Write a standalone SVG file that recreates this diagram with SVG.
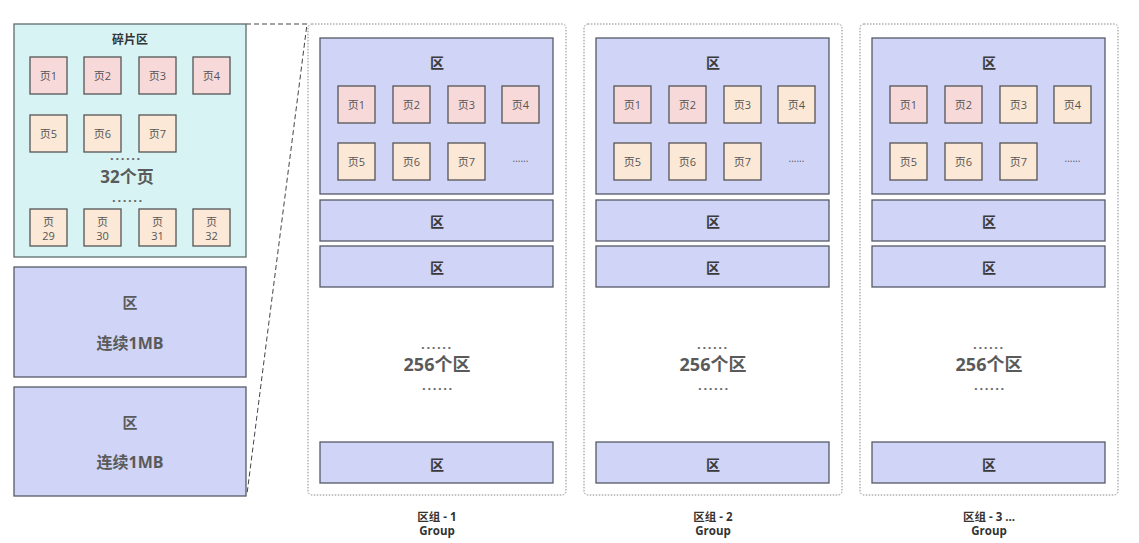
<svg xmlns="http://www.w3.org/2000/svg" width="1139" height="543" viewBox="0 0 1139 543">
<style>
text{font-family:"Open Sans","Noto Sans CJK SC",sans-serif;text-anchor:middle;dominant-baseline:central;fill:#555}
.frag{fill:#d7f3f3;stroke:#5f6b6b;stroke-width:1.3}
.zone{fill:#d0d4f7;stroke:#555a66;stroke-width:1.3}
.pink{fill:#f8d9d9;stroke:#555;stroke-width:1.3}
.cream{fill:#fce8d6;stroke:#555;stroke-width:1.3}
.grp{fill:none;stroke:#888;stroke-width:1;stroke-dasharray:1.5 1.5}
.pg{font-size:11px;fill:#555}
.zt{font-size:14px;font-weight:bold;fill:#3a3a3a}
.big{font-size:17px;font-weight:bold;fill:#5a5a5a}
.dots{font-size:13px;font-weight:bold;fill:#666;letter-spacing:1.6px}
.sdots{font-size:10px;fill:#555}
.lbl{font-size:11.5px;font-weight:bold;fill:#333}
</style>
<g id="connectors">
<polyline points="246,24 307,24 247,494" fill="none" stroke="#444" stroke-width="1" stroke-dasharray="5 3"/>
</g>
<g id="fragment-zone">
<rect class="frag" x="14" y="24" width="232" height="233"/>
<text x="130" y="39" style="font-size:12px;font-weight:bold;fill:#333">碎片区</text>
<rect class="pink" x="30" y="57" width="37" height="37"/><text class="pg" x="48.5" y="75.5">页1</text>
<rect class="pink" x="84" y="57" width="37" height="37"/><text class="pg" x="102.5" y="75.5">页2</text>
<rect class="pink" x="139" y="57" width="37" height="37"/><text class="pg" x="157.5" y="75.5">页3</text>
<rect class="pink" x="193" y="57" width="37" height="37"/><text class="pg" x="211.5" y="75.5">页4</text>
<rect class="cream" x="30" y="115" width="37" height="37"/><text class="pg" x="48.5" y="133.5">页5</text>
<rect class="cream" x="84" y="115" width="37" height="37"/><text class="pg" x="102.5" y="133.5">页6</text>
<rect class="cream" x="139" y="115" width="37" height="37"/><text class="pg" x="157.5" y="133.5">页7</text>
<text class="dots" x="126" y="155">......</text>
<text class="big" x="127" y="176">32个页</text>
<text class="dots" x="128" y="197">......</text>
<rect class="cream" x="30" y="209" width="37" height="37"/><text class="pg" x="48.5" y="221">页</text><text class="pg" x="48.5" y="235">29</text>
<rect class="cream" x="84" y="209" width="37" height="37"/><text class="pg" x="102.5" y="221">页</text><text class="pg" x="102.5" y="235">30</text>
<rect class="cream" x="139" y="209" width="37" height="37"/><text class="pg" x="157.5" y="221">页</text><text class="pg" x="157.5" y="235">31</text>
<rect class="cream" x="193" y="209" width="37" height="37"/><text class="pg" x="211.5" y="221">页</text><text class="pg" x="211.5" y="235">32</text>
</g>
<g id="zone-a">
<rect class="zone" x="14" y="267" width="232" height="110"/>
<text class="big" x="130" y="302" style="font-size:15px">区</text>
<text class="big" x="130" y="343" style="font-size:16px">连续1MB</text>
</g>
<g id="zone-b">
<rect class="zone" x="14" y="387" width="232" height="109"/>
<text class="big" x="130" y="422" style="font-size:15px">区</text>
<text class="big" x="130" y="462" style="font-size:16px">连续1MB</text>
</g>
<g id="group-1">
<rect class="grp" x="308" y="24" width="258" height="471" rx="4"/>
<rect class="zone" x="320" y="38" width="233" height="156"/>
<text class="zt" x="437" y="62">区</text>
<rect class="pink" x="338" y="86" width="37" height="37"/><text class="pg" x="356.5" y="104.5">页1</text>
<rect class="pink" x="393" y="86" width="37" height="37"/><text class="pg" x="411.5" y="104.5">页2</text>
<rect class="pink" x="448" y="86" width="37" height="37"/><text class="pg" x="466.5" y="104.5">页3</text>
<rect class="pink" x="502" y="86" width="37" height="37"/><text class="pg" x="520.5" y="104.5">页4</text>
<rect class="cream" x="338" y="143" width="37" height="37"/><text class="pg" x="356.5" y="161.5">页5</text>
<rect class="cream" x="393" y="143" width="37" height="37"/><text class="pg" x="411.5" y="161.5">页6</text>
<rect class="cream" x="448" y="143" width="37" height="37"/><text class="pg" x="466.5" y="161.5">页7</text>
<text class="sdots" x="520.5" y="158">......</text>
<rect class="zone" x="320" y="200" width="233" height="41"/><text class="zt" x="437" y="221">区</text>
<rect class="zone" x="320" y="246" width="233" height="41"/><text class="zt" x="437" y="267">区</text>
<text class="dots" x="437" y="344">......</text>
<text class="big" x="437" y="364" style="font-size:18px">256个区</text>
<text class="dots" x="438" y="385">......</text>
<rect class="zone" x="320" y="442" width="233" height="41"/><text class="zt" x="437" y="464">区</text>
<text class="lbl" x="437" y="516">区组 - 1</text>
<text class="lbl" x="437" y="530">Group</text>
</g>
<g id="group-2">
<rect class="grp" x="584" y="24" width="258" height="471" rx="4"/>
<rect class="zone" x="596" y="38" width="233" height="156"/>
<text class="zt" x="713" y="62">区</text>
<rect class="pink" x="614" y="86" width="37" height="37"/><text class="pg" x="632.5" y="104.5">页1</text>
<rect class="pink" x="669" y="86" width="37" height="37"/><text class="pg" x="687.5" y="104.5">页2</text>
<rect class="cream" x="724" y="86" width="37" height="37"/><text class="pg" x="742.5" y="104.5">页3</text>
<rect class="cream" x="778" y="86" width="37" height="37"/><text class="pg" x="796.5" y="104.5">页4</text>
<rect class="cream" x="614" y="143" width="37" height="37"/><text class="pg" x="632.5" y="161.5">页5</text>
<rect class="cream" x="669" y="143" width="37" height="37"/><text class="pg" x="687.5" y="161.5">页6</text>
<rect class="cream" x="724" y="143" width="37" height="37"/><text class="pg" x="742.5" y="161.5">页7</text>
<text class="sdots" x="796.5" y="158">......</text>
<rect class="zone" x="596" y="200" width="233" height="41"/><text class="zt" x="713" y="221">区</text>
<rect class="zone" x="596" y="246" width="233" height="41"/><text class="zt" x="713" y="267">区</text>
<text class="dots" x="713" y="344">......</text>
<text class="big" x="713" y="364" style="font-size:18px">256个区</text>
<text class="dots" x="714" y="385">......</text>
<rect class="zone" x="596" y="442" width="233" height="41"/><text class="zt" x="713" y="464">区</text>
<text class="lbl" x="713" y="516">区组 - 2</text>
<text class="lbl" x="713" y="530">Group</text>
</g>
<g id="group-3">
<rect class="grp" x="860" y="24" width="258" height="471" rx="4"/>
<rect class="zone" x="872" y="38" width="233" height="156"/>
<text class="zt" x="989" y="62">区</text>
<rect class="pink" x="890" y="86" width="37" height="37"/><text class="pg" x="908.5" y="104.5">页1</text>
<rect class="pink" x="945" y="86" width="37" height="37"/><text class="pg" x="963.5" y="104.5">页2</text>
<rect class="cream" x="1000" y="86" width="37" height="37"/><text class="pg" x="1018.5" y="104.5">页3</text>
<rect class="cream" x="1054" y="86" width="37" height="37"/><text class="pg" x="1072.5" y="104.5">页4</text>
<rect class="cream" x="890" y="143" width="37" height="37"/><text class="pg" x="908.5" y="161.5">页5</text>
<rect class="cream" x="945" y="143" width="37" height="37"/><text class="pg" x="963.5" y="161.5">页6</text>
<rect class="cream" x="1000" y="143" width="37" height="37"/><text class="pg" x="1018.5" y="161.5">页7</text>
<text class="sdots" x="1072.5" y="158">......</text>
<rect class="zone" x="872" y="200" width="233" height="41"/><text class="zt" x="989" y="221">区</text>
<rect class="zone" x="872" y="246" width="233" height="41"/><text class="zt" x="989" y="267">区</text>
<text class="dots" x="989" y="344">......</text>
<text class="big" x="989" y="364" style="font-size:18px">256个区</text>
<text class="dots" x="990" y="385">......</text>
<rect class="zone" x="872" y="442" width="233" height="41"/><text class="zt" x="989" y="464">区</text>
<text class="lbl" x="989" y="516">区组 - 3 ...</text>
<text class="lbl" x="989" y="530">Group</text>
</g>
</svg>
